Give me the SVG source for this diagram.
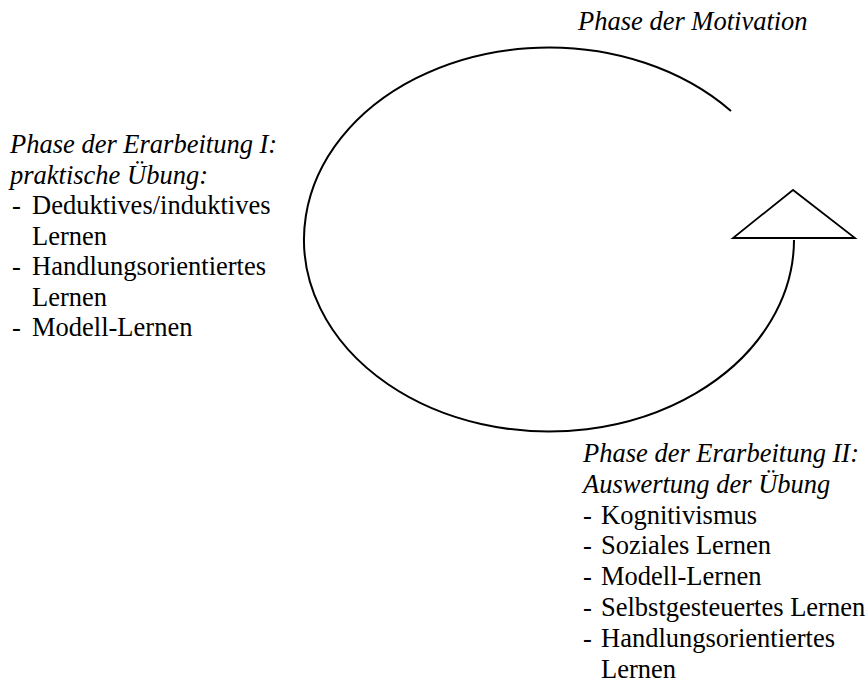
<svg xmlns="http://www.w3.org/2000/svg" width="868" height="684" viewBox="0 0 868 684">
<style>
text{font-family:"Liberation Serif","Times New Roman",serif;font-size:26.5px;fill:#000}
.it{font-style:italic}
.ln{fill:none;stroke:#000;stroke-width:2}
.tri{fill:#fff;stroke:#000;stroke-width:1.8;stroke-linejoin:miter}
</style>
<rect width="868" height="684" fill="#fff"/>
<g id="connectors">
<path class="ln" d="M731,111 A245,192 0 1 0 794,240"/>
<polygon class="tri" points="793,190 733,238 855,238"/>
</g>
<g id="motivation">
<text class="it" x="578" y="30">Phase der Motivation</text>
</g>
<g id="erarbeitung1">
<text class="it" x="10" y="153">Phase der Erarbeitung I:</text>
<text class="it" x="10" y="183.5">praktische Übung:</text>
<text x="12" y="214">-</text><text x="32" y="214">Deduktives/induktives</text>
<text x="32" y="244.5">Lernen</text>
<text x="12" y="275">-</text><text x="32" y="275">Handlungsorientiertes</text>
<text x="32" y="305.5">Lernen</text>
<text x="12" y="336">-</text><text x="32" y="336">Modell-Lernen</text>
</g>
<g id="erarbeitung2">
<text class="it" x="583" y="462">Phase der Erarbeitung II:</text>
<text class="it" x="583" y="492.8">Auswertung der Übung</text>
<text x="583" y="523.6">-</text><text x="601" y="523.6">Kognitivismus</text>
<text x="583" y="554.4">-</text><text x="601" y="554.4">Soziales Lernen</text>
<text x="583" y="585.2">-</text><text x="601" y="585.2">Modell-Lernen</text>
<text x="583" y="616">-</text><text x="601" y="616">Selbstgesteuertes Lernen</text>
<text x="583" y="646.8">-</text><text x="601" y="646.8">Handlungsorientiertes</text>
<text x="601" y="677.6">Lernen</text>
</g>
</svg>
